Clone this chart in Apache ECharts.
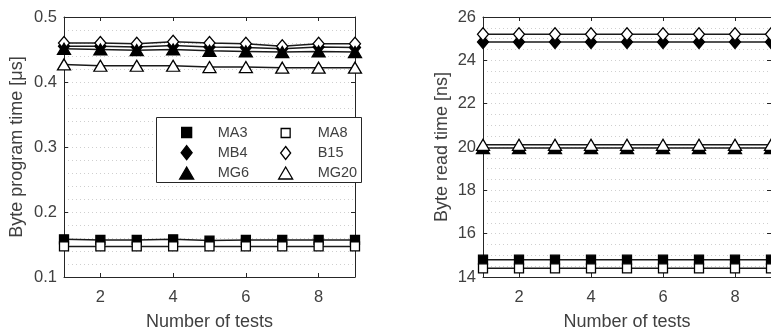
<!DOCTYPE html>
<html>
<head>
<meta charset="utf-8">
<script src="https://cdn.jsdelivr.net/npm/echarts@6/dist/echarts.min.js"></script>
<style>
  html, body { margin: 0; padding: 0; background: #fff; }
  #chart { width: 771px; height: 336px; }
</style>
</head>
<body>
<div id="chart"></div>
<script>
// Test index on the horizontal axis
const tests = [1, 2, 3, 4, 5, 6, 7, 8, 9];
const xTickValues = [2, 4, 6, 8];

// Byte program time [μs] per device
const progMA3  = [0.158, 0.157, 0.157, 0.158, 0.156, 0.157, 0.157, 0.157, 0.157];
const progMA8  = [0.147, 0.147, 0.147, 0.147, 0.147, 0.147, 0.147, 0.147, 0.147];
const progMB4  = [0.455, 0.455, 0.454, 0.456, 0.454, 0.453, 0.451, 0.454, 0.453];
const progB15  = [0.460, 0.460, 0.459, 0.462, 0.460, 0.459, 0.455, 0.459, 0.459];
const progMG6  = [0.451, 0.450, 0.449, 0.450, 0.448, 0.447, 0.446, 0.447, 0.446];
const progMG20 = [0.427, 0.425, 0.425, 0.425, 0.423, 0.423, 0.422, 0.422, 0.422];

// Byte read time [ns] per device
const readMA3  = [14.8, 14.8, 14.8, 14.8, 14.8, 14.8, 14.8, 14.8, 14.8];
const readMA8  = [14.4, 14.4, 14.4, 14.4, 14.4, 14.4, 14.4, 14.4, 14.4];
const readMB4  = [24.85, 24.85, 24.85, 24.85, 24.85, 24.85, 24.85, 24.85, 24.85];
const readB15  = [25.2, 25.2, 25.2, 25.2, 25.2, 25.2, 25.2, 25.2, 25.2];
const readMG6  = [19.95, 19.95, 19.95, 19.95, 19.95, 19.95, 19.95, 19.95, 19.95];
const readMG20 = [20.1, 20.1, 20.1, 20.1, 20.1, 20.1, 20.1, 20.1, 20.1];

// Y axis ticks
const progTicks = { min: 0.1, max: 0.5, step: 0.1 };
const readTicks = { min: 14, max: 26, step: 2 };

const FONT = '"Liberation Sans", Arial, sans-serif';
const INK = '#262626';
const TEXT = '#404040';
const GRID = '#cfcfcf';

// Marker look per device
const markers = {
  MA3:  { symbol: 'rect',     size: [9, 9],   fill: '#000' },
  MA8:  { symbol: 'rect',     size: [9, 9],   fill: '#fff' },
  MB4:  { symbol: 'diamond',  size: [11, 13], fill: '#000' },
  B15:  { symbol: 'diamond',  size: [11, 13], fill: '#fff' },
  MG6:  { symbol: 'triangle', size: [13, 11], fill: '#000' },
  MG20: { symbol: 'triangle', size: [13, 11], fill: '#fff' }
};

const progData = { MA3: progMA3, MA8: progMA8, MB4: progMB4, B15: progB15, MG6: progMG6, MG20: progMG20 };
const readData = { MA3: readMA3, MA8: readMA8, MB4: readMB4, B15: readB15, MG6: readMG6, MG20: readMG20 };
const order = ['MA3', 'MA8', 'MB4', 'B15', 'MG6', 'MG20'];

function makeSeries(dataMap, axisIndex) {
  return order.map(name => {
    const m = markers[name];
    return {
      name,
      type: 'line',
      xAxisIndex: axisIndex,
      yAxisIndex: axisIndex,
      data: tests.map((t, i) => [t, dataMap[name][i]]),
      symbol: m.symbol,
      symbolSize: m.size,
      showAllSymbol: true,
      lineStyle: { color: '#1a1a1a', width: 1.5 },
      itemStyle: { color: m.fill, borderColor: '#000', borderWidth: 1.3 },
      emphasis: { disabled: true },
      animation: false,
      z: 3
    };
  });
}

function bottomX(gridIndex) {
  return {
    type: 'value', gridIndex, position: 'bottom',
    min: 1, max: 9,
    name: 'Number of tests',
    nameLocation: 'middle', nameGap: 36,
    nameTextStyle: { fontFamily: FONT, fontSize: 18, color: TEXT },
    axisLine: { show: true, onZero: false, lineStyle: { color: INK, width: 1 } },
    axisTick: { show: true, inside: true, length: 4, customValues: xTickValues, lineStyle: { color: INK } },
    axisLabel: { show: true, customValues: xTickValues, margin: 12, fontFamily: FONT, fontSize: 16.5, color: TEXT },
    splitLine: { show: false }
  };
}
function topX(gridIndex) {
  return {
    type: 'value', gridIndex, position: 'top',
    min: 1, max: 9,
    axisLine: { show: true, onZero: false, lineStyle: { color: INK, width: 1 } },
    axisTick: { show: true, inside: true, length: 4, customValues: xTickValues, lineStyle: { color: INK } },
    axisLabel: { show: false },
    splitLine: { show: false }
  };
}
function leftY(gridIndex, ticks, title, gap, minorSplits) {
  return {
    type: 'value', gridIndex, position: 'left',
    min: ticks.min, max: ticks.max, interval: ticks.step,
    name: title, nameLocation: 'middle', nameGap: gap, nameRotate: 90,
    nameTextStyle: { fontFamily: FONT, fontSize: 18, color: TEXT },
    axisLine: { show: true, onZero: false, lineStyle: { color: INK, width: 1 } },
    axisTick: { show: true, inside: true, length: 4, lineStyle: { color: INK } },
    axisLabel: { margin: 7, fontFamily: FONT, fontSize: 16.5, color: TEXT,
      formatter: v => String(Math.round(v * 1000) / 1000) },
    splitLine: { show: true, lineStyle: { color: GRID, type: [1, 3], width: 1 } },
    minorTick: { show: false, splitNumber: minorSplits },
    minorSplitLine: { show: true, lineStyle: { color: GRID, type: [1, 3], width: 1 } }
  };
}
function rightY(gridIndex, ticks) {
  return {
    type: 'value', gridIndex, position: 'right',
    min: ticks.min, max: ticks.max, interval: ticks.step,
    axisLine: { show: true, onZero: false, lineStyle: { color: INK, width: 1 } },
    axisTick: { show: true, inside: true, length: 4, lineStyle: { color: INK } },
    axisLabel: { show: false },
    splitLine: { show: false }
  };
}

// Legend: one entry per device, laid out in two columns inside a framed box
const legendSlots = {
  MA3:  { cx: 186, cy: 130,   tx: 217, w: 10, h: 10 },
  MB4:  { cx: 186, cy: 152,   tx: 217, w: 11, h: 14 },
  MG6:  { cx: 186, cy: 171.5, tx: 217, w: 14, h: 12 },
  MA8:  { cx: 285, cy: 130,   tx: 317, w: 9,  h: 9 },
  B15:  { cx: 285, cy: 152,   tx: 317, w: 10, h: 13 },
  MG20: { cx: 285, cy: 171.5, tx: 317, w: 14, h: 12 }
};
const legends = order.map(name => {
  const s = legendSlots[name];
  const m = markers[name];
  return {
    show: true,
    data: [{ name, icon: m.symbol, itemStyle: { color: m.fill, borderColor: '#000', borderWidth: 1.3 } }],
    left: s.cx - s.w / 2,
    top: s.cy - s.h / 2,
    itemWidth: s.w,
    itemHeight: s.h,
    padding: 0,
    selectedMode: false,
    z: 10,
    textStyle: { fontFamily: FONT, fontSize: 14.5, color: TEXT,
      padding: [0, 0, 0, s.tx - (s.cx + s.w / 2 + 5)] }
  };
});

const chart = echarts.init(document.getElementById('chart'), null, { renderer: 'canvas' });
chart.setOption({
  animation: false,
  backgroundColor: '#fff',
  grid: [
    { left: 64, top: 17, width: 291, height: 265 },
    { left: 483, top: 17, width: 290, height: 265 }
  ],
  xAxis: [bottomX(0), bottomX(1), topX(0), topX(1)],
  yAxis: [
    leftY(0, progTicks, 'Byte program time [μs]', 38, 5),
    leftY(1, readTicks, 'Byte read time [ns]', 32, 4),
    rightY(0, progTicks),
    rightY(1, readTicks)
  ],
  legend: legends,
  graphic: [{
    type: 'rect', z: 8,
    shape: { x: 156.5, y: 117.5, width: 205, height: 65 },
    style: { fill: '#fff', stroke: INK, lineWidth: 1 }
  }],
  series: makeSeries(progData, 0).concat(makeSeries(readData, 1))
});
</script>
</body>
</html>
